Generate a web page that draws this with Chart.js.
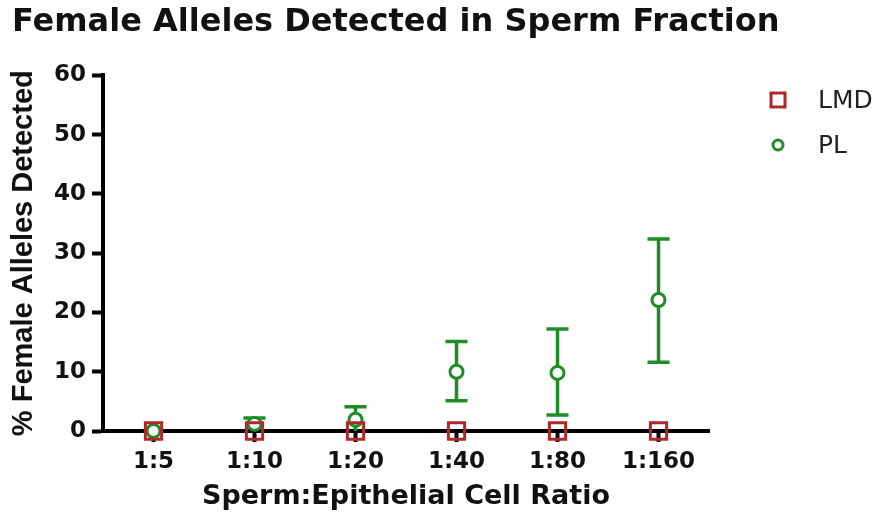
<!DOCTYPE html>
<html>
<head>
<title>Female Alleles Detected in Sperm Fraction</title>
<script src="https://cdn.jsdelivr.net/npm/chart.js"></script>
<style>
    body {
        margin: 0;
        background: #fff;
    }
    .chart-box {
        width: 886px;
        height: 521px;
    }
</style>
</head>
<body>
<div class="chart-box"><canvas id="allelesChart"></canvas></div>
<script>
// data
const ratios = ['1:5', '1:10', '1:20', '1:40', '1:80', '1:160'];
const lmdValues = [0, 0, 0, 0, 0, 0];
const plValues = [0, 1.2, 1.9, 10.0, 9.8, 22.1];
const plLower = [0, 0, 0, 5.1, 2.7, 11.6];
const plUpper = [0, 2.2, 4.1, 15.1, 17.2, 32.4];
const yTicks = [0, 10, 20, 30, 40, 50, 60];

const RED = '#b0282c';
const GREEN = '#1f8c26';

// error bars for PL, drawn under the points
const errorBars = {
    id: 'errorBars',
    beforeDatasetsDraw(chart) {
        const ctx = chart.ctx;
        const xs = chart.scales.x, ys = chart.scales.y;
        ctx.save();
        ctx.strokeStyle = GREEN;
        ctx.lineWidth = 3.5;
        plValues.forEach((v, i) => {
            if (plUpper[i] === plLower[i]) return;
            const px = xs.getPixelForValue(i);
            const top = ys.getPixelForValue(plUpper[i]);
            const bot = ys.getPixelForValue(plLower[i]);
            ctx.beginPath();
            ctx.moveTo(px, top);
            ctx.lineTo(px, bot);
            ctx.moveTo(px - 11, top);
            ctx.lineTo(px + 11, top);
            if (plLower[i] > 0) {
                ctx.moveTo(px - 11, bot);
                ctx.lineTo(px + 11, bot);
            }
            ctx.stroke();
        });
        ctx.restore();
    }
};

// legend off to the right like the original
const sideLegend = {
    id: 'sideLegend',
    afterDraw(chart) {
        const ctx = chart.ctx;
        const mx = chart.chartArea.right + 69;
        ctx.save();
        chart.data.datasets.forEach((ds, i) => {
            const my = 100 + i * 45;
            ctx.strokeStyle = ds.borderColor;
            ctx.fillStyle = '#fff';
            ctx.lineWidth = 3;
            ctx.beginPath();
            if (ds.pointStyle === 'rect') {
                ctx.rect(mx - 7, my - 7, 14, 14);
            } else {
                ctx.arc(mx, my, 5, 0, Math.PI * 2);
            }
            ctx.fill();
            ctx.stroke();
            ctx.fillStyle = '#222';
            ctx.font = '25px "DejaVu Sans"';
            ctx.textBaseline = 'middle';
            ctx.textAlign = 'left';
            ctx.fillText(ds.label, mx + 40, my + 1);
        });
        ctx.restore();
    }
};

const tickFont = { family: 'DejaVu Sans', size: 23, weight: 'bold' };

new Chart(document.getElementById('allelesChart'), {
    type: 'line',
    data: {
        labels: ratios,
        datasets: [{
            label: 'LMD',
            data: lmdValues,
            showLine: false,
            pointStyle: 'rect',
            pointRadius: 11.5,
            pointBorderWidth: 3,
            borderColor: RED,
            pointBackgroundColor: 'rgba(0,0,0,0)',
            clip: false
        }, {
            label: 'PL',
            data: plValues,
            showLine: false,
            pointStyle: 'circle',
            pointRadius: 6.5,
            pointBorderWidth: 3,
            borderColor: GREEN,
            pointBackgroundColor: '#fff',
            clip: false
        }]
    },
    options: {
        responsive: true,
        maintainAspectRatio: false,
        animation: false,
        layout: { padding: { left: 12, right: 0, top: 0, bottom: 0 } },
        plugins: {
            legend: { display: false },
            tooltip: { enabled: false },
            title: {
                display: true,
                text: 'Female Alleles Detected in Sperm Fraction',
                align: 'start',
                color: '#111',
                font: { family: 'DejaVu Sans', size: 32, weight: 'bold' },
                padding: { top: 3, bottom: 34 }
            }
        },
        scales: {
            x: {
                offset: true,
                afterFit: s => { s.height = 90; },
                border: { color: '#000', width: 4 },
                grid: { drawOnChartArea: false, drawTicks: true, tickLength: 11, tickWidth: 4, tickColor: '#000' },
                ticks: { color: '#111', font: tickFont, padding: 6 },
                title: {
                    display: true,
                    text: 'Sperm:Epithelial Cell Ratio',
                    color: '#111',
                    font: { family: 'DejaVu Sans', size: 27, weight: 'bold' },
                    padding: { top: 0, bottom: 8 }
                }
            },
            y: {
                min: 0,
                max: 60,
                afterFit: s => { s.width = 91; },
                afterBuildTicks: s => { s.ticks = yTicks.map(v => ({ value: v })); },
                border: { color: '#000', width: 4 },
                grid: { drawOnChartArea: false, drawTicks: true, tickLength: 11, tickWidth: 4, tickColor: '#000' },
                ticks: { color: '#111', font: tickFont, padding: 6 },
                title: {
                    display: true,
                    text: '% Female Alleles Detected',
                    color: '#111',
                    font: { family: 'Liberation Sans', size: 29, weight: 'bold', lineHeight: 0.8 },
                    padding: 0
                }
            },
            // empty right-hand box that keeps room for the legend
            legendSpace: {
                type: 'linear',
                position: 'right',
                afterFit: s => { s.width = 177; },
                border: { display: false },
                grid: { display: false, drawTicks: false },
                ticks: { display: false }
            }
        }
    },
    plugins: [errorBars, sideLegend]
});
</script>
</body>
</html>
